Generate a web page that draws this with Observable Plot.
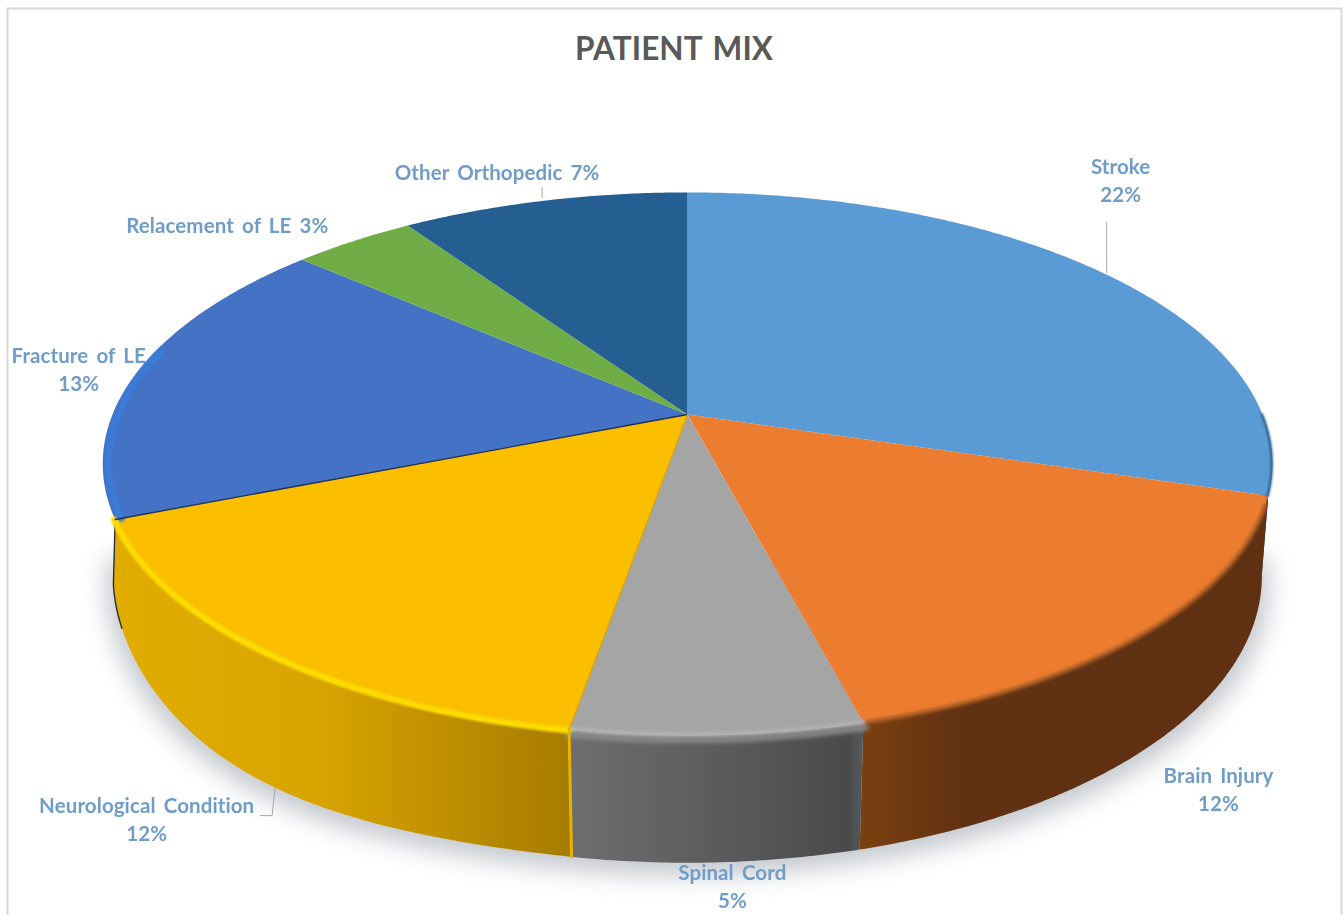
<!DOCTYPE html>
<html>
<head>
<meta charset="utf-8">
<script src="https://cdn.jsdelivr.net/npm/d3@7"></script>
<script src="https://cdn.jsdelivr.net/npm/@observablehq/plot@0.6"></script>
<style>html,body{margin:0;padding:0;background:#fff;overflow:hidden}svg{display:block}</style>
</head>
<body>
<div id="chart"></div>
<script>
const categories = ["Stroke","Brain Injury","Spinal Cord","Neurological Condition","Fracture of LE","Relacement of LE","Other Orthopedic"];
const shares = [22,12,5,12,13,3,7];
const topColors = ["#5B9BD5","#EC7C30","#A5A5A5","#FBBF00","#4472C4","#70AD47","#255E91"];
const labelTexts = ["Stroke\n22%","Brain Injury\n12%","Spinal Cord\n5%","Neurological Condition\n12%","Fracture of LE\n13%","Relacement of LE 3%","Other Orthopedic 7%"];
const labelOffsets = [[16,-95],[73,155],[15,150],[-120,166],[-59,-3],[-126,-17],[-47,-30]];

// Perspective of the tilted disc
const W = 1343, H = 915, CX = 687, CY = 414, A = 575, B = 262.5, K = 0.182, Q = 0.0175, DEPTH = 112 / 262.5;
const rad = d => d * Math.PI / 180;
function proj(deg, r = 1, z = 0) {
  const u = r * Math.sin(rad(deg)), v = r * Math.cos(rad(deg));
  const w = 1 + K * v + Q * z;
  // the lower rim of the reference sags a little towards the front left
  const a = ((deg % 360) + 360) % 360;
  const sag = a > 190 && a < 260 ? 13 / B * z * Math.sin(rad((a - 190) * 180 / 70)) ** 2 : 0;
  return {x: u / w, y: (v - DEPTH * z) / w - sag};
}
const arc = (a0, a1, r = 1, z = 0) => {
  const n = Math.max(2, Math.ceil(Math.abs(a1 - a0) * 2)), out = [];
  for (let i = 0; i <= n; i++) out.push(proj(a0 + (a1 - a0) * i / n, r, z));
  return out;
};
const total = d3.sum(shares);
let acc = 0;
const slices = shares.map((s, i) => {
  const a0 = acc; acc += s / total * 360;
  return {i, a0, a1: acc, mid: (a0 + acc) / 2};
});
const wedge = s => [proj(0, 0), ...arc(s.a0, s.a1)];
const wall = (a0, a1, b0 = a0, b1 = a1) => [...arc(a0, a1), ...arc(b1, b0, 1, 1)];
const shift = (p, dx, dy) => ({x: p.x + dx / A, y: p.y - dy / B});
const poly = (pts, fill, extra = {}) => Plot.line(pts, {x: "x", y: "y", fill, stroke: "none", ...extra});
const stroke = (pts, color, width, extra = {}) => Plot.line(pts, {x: "x", y: "y", stroke: color, strokeWidth: width, ...extra});

const [sStroke, sBrain, sSpinal, sNeuro] = slices;
const labelData = slices.map((s, i) => {
  const p = proj(s.mid);
  return {x: p.x, y: p.y, t: labelTexts[i], dx: labelOffsets[i][0], dy: labelOffsets[i][1]};
});
const neuroFoot = proj(sNeuro.mid, 1, 1);
const leaders = [
  [shift(proj(sStroke.mid), 2, -1), shift(proj(sStroke.mid), 2, -51)],
  [shift(proj(slices[6].mid), -2, -3), shift(proj(slices[6].mid), -2, -13)],
  [shift(neuroFoot, 0, 0), shift(neuroFoot, -3, 28), shift(neuroFoot, -15, 28)]
];

const chart = Plot.plot({
  width: W, height: H, margin: 0,
  x: {axis: null, domain: [-CX / A, (W - CX) / A], range: [0, W]},
  y: {axis: null, domain: [CY / B, (CY - H) / B], range: [0, H]},
  style: {background: "#fff", wordSpacing: "3px", letterSpacing: "0.1px"},
  marks: [
    Plot.frame({stroke: "#d9d9d9", strokeWidth: 2, insetLeft: 7, insetTop: 8, insetRight: 2, insetBottom: -10}),
    // ground shadow
    poly(arc(95, 265, 1.012, 1).map(p => shift(p, 0, 8)), "#a4abb2", {imageFilter: "blur(12px)", fillOpacity: 0.65}),
    // side walls
    poly(wall(92, sStroke.a1, 92, 100), "#1f4e79"),
    poly(wall(sStroke.a1, sBrain.a1, 100, sBrain.a1), "url(#gBrain)"),
    poly(wall(sBrain.a1, sSpinal.a1), "url(#gSpinal)"),
    poly(wall(sSpinal.a1, sNeuro.a1, sSpinal.a1, 258), "url(#gNeuro)"),
    stroke([...arc(250, 258, 1, 1), proj(sNeuro.a1)], "#2a2f3f", 1.4),
    // top faces
    ...slices.map((s, i) => poly(wedge(s), topColors[i])),
    // bevels and edges
    stroke(arc(90, sStroke.a1, 0.999), "#2f5f8f", 2.5, {imageFilter: "blur(1px)"}),
    stroke(arc(sNeuro.a1, 285, 0.99), "#3b7bd6", 7, {imageFilter: "blur(1px)"}),
    stroke(arc(sBrain.a0 + 2, sBrain.a1, 1.0), "#a65a22", 4, {imageFilter: "blur(1.6px)"}),
    stroke(arc(sSpinal.a0, sSpinal.a1, 1.012), "#8a8a8a", 6, {imageFilter: "blur(2px)"}),
    stroke(arc(sSpinal.a0, sSpinal.a1, 0.998), "#b2b2b2", 5, {imageFilter: "blur(1.5px)"}),
    stroke(arc(sNeuro.a0, sNeuro.a1, 1.002), "#ffdc00", 6, {imageFilter: "blur(1.2px)"}),
    stroke([proj(sNeuro.a0), proj(sNeuro.a0, 1, 1)], "#e3b400", 3),
    stroke([proj(0, 0), proj(sNeuro.a1)], "#1d2f5c", 1.3),
    stroke([proj(0, 0), proj(sNeuro.a0)], "#d8a500", 1.2),
    // leaders
    ...leaders.map(l => stroke(l, "#a6a6a6", 1)),
    // labels
    ...labelData.map(d => Plot.text([d], {
      x: "x", y: "y", text: "t", dx: d.dx, dy: d.dy,
      fill: "#6f9dc8", fontFamily: "Lato", fontWeight: 700, fontSize: 20.5, lineHeight: 1.37,
      textAnchor: "middle", imageFilter: "blur(0.3px)"
    })),
    Plot.text(["PATIENT MIX"], {
      frameAnchor: "top", dx: 2, dy: 37, text: d => d,
      fill: "#595959", fontFamily: "Lato", fontWeight: 700, fontSize: 31.5, lineAnchor: "top"
    })
  ]
});

const defs = d3.select(chart).insert("defs", ":first-child");
const grad = (id, stops) => {
  const g = defs.append("linearGradient").attr("id", id).attr("x1", 0).attr("x2", 1).attr("y1", 0).attr("y2", 0);
  stops.forEach(([o, c]) => g.append("stop").attr("offset", o).attr("stop-color", c));
};
grad("gBrain", [[0, "#7a4110"], [0.25, "#613112"], [1, "#5f3012"]]);
grad("gSpinal", [[0, "#6e6e6e"], [0.5, "#5c5c5c"], [0.95, "#4a4a4a"], [1, "#555b60"]]);
grad("gNeuro", [[0, "#e2ad00"], [0.45, "#d8a400"], [0.8, "#b88a00"], [1, "#a67c00"]]);
document.getElementById("chart").appendChild(chart);
</script>
</body>
</html>
